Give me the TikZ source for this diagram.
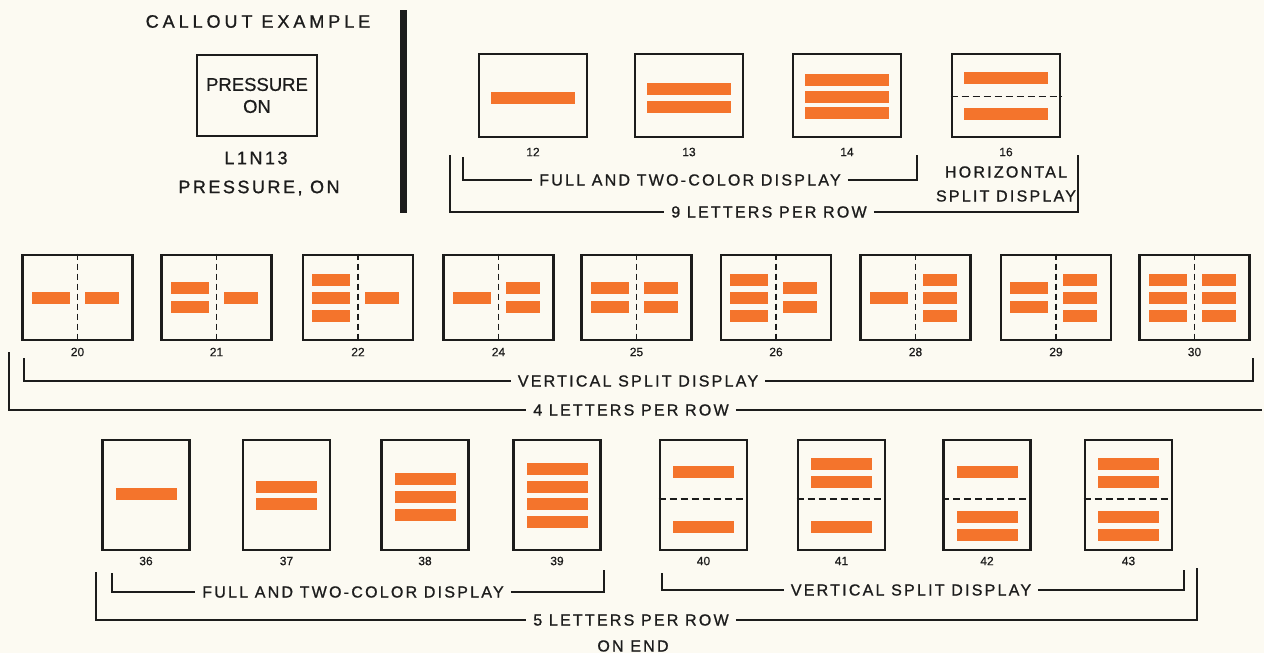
\documentclass[tikz,border=0pt]{standalone}
\usepackage{fontspec}
\setmainfont{Liberation Sans}[FakeBold=0.7]
\newfontfamily\lblfont[LetterSpace=14, FakeBold=1]{Liberation Sans}
\newfontfamily\headfont[LetterSpace=22, FakeBold=1]{Liberation Sans}
\usetikzlibrary{positioning, calc}
\definecolor{paper}{RGB}{252,250,242}
\definecolor{lamp}{RGB}{244,116,44}
\definecolor{ink}{RGB}{28,28,28}

\begin{document}
\begin{tikzpicture}[
    x=1pt, y=-1pt,
    panel/.style={draw=ink, line width=2.6pt, minimum width=108pt, minimum height=83pt, inner sep=0pt},
    widepanel/.style={panel, minimum width=110pt, minimum height=85pt},
    tallpanel/.style={panel, minimum width=87pt, minimum height=110pt},
    num/.style={font=\fontsize{12}{13}\selectfont, text=ink, inner sep=0pt},
    lbl/.style={font=\lblfont\fontsize{16}{18}\selectfont, text=ink, inner xsep=7pt, inner ysep=0pt},
    biglbl/.style={lbl, font=\lblfont\fontsize{18}{20}\selectfont},
    bracket/.style={draw=ink, line width=1.9pt},
    splitline/.style={draw=ink, line width=1.9pt, dash pattern=on 7pt off 4pt},
    vsplitline/.style={draw=ink, line width=1.6pt, dash pattern=on 6pt off 4pt},
    bar/.style={fill=lamp}
]

% Page
\fill[paper] (0,0) rectangle (1264,653);
\useasboundingbox (0,0) rectangle (1264,653);

% Callout example
\node[font=\headfont\fontsize{18}{20}\selectfont, text=ink] (callout) at (258,21.5) {CALLOUT EXAMPLE};
\node[draw=ink, line width=2.6pt, minimum width=120pt, minimum height=81pt, align=center,
      font=\fontsize{18.5}{22}\selectfont, text=ink] (pressbox) at (257,95.5) {PRESSURE\\ON};
\node[biglbl] (code) at (256,158) {L1N13};
\node[biglbl] (legend) at (259,188) {PRESSURE, ON};
\fill[ink] (400,10) rectangle (407,213);

% Top row (9 letters per row)
\foreach \n/\x in {12/533, 13/689, 14/847, 16/1006} {
    \node[panel] (p\n) at (\x,95.5) {};
    \node[num] (n\n) at (\x,152) {\n};
}
\foreach \n/\dys in {12/{2}, 13/{-7,11}, 14/{-16,1,17}, 16/{-18,18}} {
    \foreach \dy in \dys {
        \fill[bar] ($(p\n)+(-42,\dy-6)$) rectangle +(84,12);
    }
}
\draw[splitline] ($(p16.west)+(0,1)$) -- ($(p16.east)+(0,1)$);

% Middle row (4 letters per row)
\foreach \n/\x in {20/77.5, 21/216.5, 22/358, 24/498.5, 25/636.5, 26/776, 28/915.5, 29/1056, 30/1194.5} {
    \node[widepanel] (p\n) at (\x,297.5) {};
    \draw[vsplitline] (p\n.north) -- (p\n.south);
    \node[num] (n\n) at (\x,352) {\n};
}
\foreach \n/\ls/\rs in {20/{0}/{0}, 21/{-10,9}/{0}, 22/{-18,0,18}/{0}, 24/{0}/{-10,9},
                        25/{-10,9}/{-10,9}, 26/{-18,0,18}/{-10,9}, 28/{0}/{-18,0,18},
                        29/{-10,9}/{-18,0,18}, 30/{-18,0,18}/{-18,0,18}} {
    \foreach \dy in \ls {
        \fill[bar] ($(p\n)+(-46,\dy-6)$) rectangle +(38,12);
    }
    \foreach \dy in \rs {
        \fill[bar] ($(p\n)+(7,\dy-6)$) rectangle +(34,12);
    }
}

% Bottom row (5 letters per row, on end)
\foreach \n/\x in {36/146, 37/286.5, 38/425, 39/557, 40/703.5, 41/841.5, 42/987, 43/1128.5} {
    \node[tallpanel] (p\n) at (\x,495) {};
    \node[num] (n\n) at (\x,561) {\n};
}
\foreach \n in {40, 41, 42, 43} {
    \draw[splitline] ($(p\n.west)+(0,4)$) -- ($(p\n.east)+(0,4)$);
}
\foreach \n/\dys in {36/{-1}, 37/{-8,9}, 38/{-16,2,20}, 39/{-26,-8,9,27},
                     40/{-23,32}, 41/{-31,-13,32}, 42/{-23,22,40}, 43/{-31,-13,22,40}} {
    \foreach \dy in \dys {
        \fill[bar] ($(p\n)+(-30.5,\dy-6)$) rectangle +(61,12);
    }
}

% Brackets, top row
\node[lbl] (fulltop) at (690,180) {FULL AND TWO-COLOR DISPLAY};
\node[lbl] (ninetop) at (769,212) {9 LETTERS PER ROW};
\node[lbl, align=center, font=\lblfont\fontsize{16}{24}\selectfont] (hsplit) at (1006,184) {HORIZONTAL\\SPLIT DISPLAY};
\coordinate (ft1) at (463,157);
\coordinate (ft2) at (917,155);
\coordinate (nt1) at (450,155);
\coordinate (nt2) at (1078,155);
\draw[bracket] (ft1) |- (fulltop.west);
\draw[bracket] (fulltop.east) -| (ft2);
\draw[bracket] (nt1) |- (ninetop.west);
\draw[bracket] (ninetop.east) -| (nt2);

% Brackets, middle row
\node[lbl] (vsmid) at (638,381) {VERTICAL SPLIT DISPLAY};
\node[lbl] (fourmid) at (631,410) {4 LETTERS PER ROW};
\coordinate (vm1) at (24,358);
\coordinate (vm2) at (1253,358);
\coordinate (fm1) at (9,352);
\coordinate (fm2) at (1262,410);
\draw[bracket] (vm1) |- (vsmid.west);
\draw[bracket] (vsmid.east) -| (vm2);
\draw[bracket] (fm1) |- (fourmid.west);
\draw[bracket] (fourmid.east) -- (fm2);

% Brackets, bottom row
\node[lbl] (fullbot) at (353,592) {FULL AND TWO-COLOR DISPLAY};
\node[lbl] (vsbot) at (911,590) {VERTICAL SPLIT DISPLAY};
\node[lbl] (fivebot) at (631,620) {5 LETTERS PER ROW};
\node[lbl] (onend) at (633,646) {ON END};
\coordinate (fb1) at (112,573);
\coordinate (fb2) at (604,570);
\coordinate (vb1) at (662,573);
\coordinate (vb2) at (1184,570);
\coordinate (sb1) at (96,572);
\coordinate (sb2) at (1197,568);
\draw[bracket] (fb1) |- (fullbot.west);
\draw[bracket] (fullbot.east) -| (fb2);
\draw[bracket] (vb1) |- (vsbot.west);
\draw[bracket] (vsbot.east) -| (vb2);
\draw[bracket] (sb1) |- (fivebot.west);
\draw[bracket] (fivebot.east) -| (sb2);

\end{tikzpicture}
\end{document}
